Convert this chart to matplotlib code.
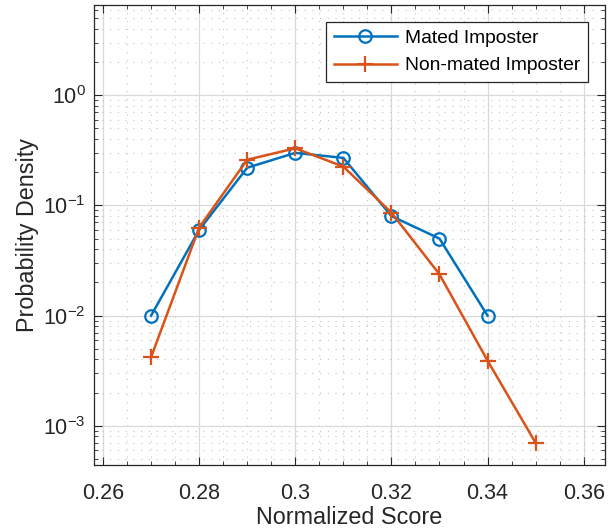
import matplotlib
matplotlib.use("Agg")
import matplotlib.pyplot as plt
from matplotlib.ticker import LogLocator, MultipleLocator, NullFormatter

plt.rcParams['font.family'] = ['Liberation Sans', 'DejaVu Sans']
plt.rcParams['mathtext.fontset'] = 'custom'
plt.rcParams['mathtext.rm'] = 'Liberation Sans'
plt.rcParams['mathtext.it'] = 'Liberation Sans:italic'

# score bins and densities for the two imposter groups
mated_x = [0.27, 0.28, 0.29, 0.30, 0.31, 0.32, 0.33, 0.34]
mated_y = [0.01, 0.06, 0.22, 0.30, 0.27, 0.08, 0.05, 0.01]
nonmated_x = [0.27, 0.28, 0.29, 0.30, 0.31, 0.32, 0.33, 0.34, 0.35]
nonmated_y = [0.0042, 0.063, 0.26, 0.33, 0.225, 0.086, 0.0237, 0.0039, 0.0007]
xticks = [0.26, 0.28, 0.30, 0.32, 0.34, 0.36]
xtick_labels = ['0.26', '0.28', '0.3', '0.32', '0.34', '0.36']

dark = '#262626'
fig = plt.figure(figsize=(6.14, 5.31), dpi=100)
ax = fig.add_axes([0.153, 0.1243, 0.832, 0.8663])

ax.plot(mated_x, mated_y, color='#0072BD', marker='o', markersize=9,
        markerfacecolor='none', markeredgewidth=1.6, linewidth=1.8,
        label='Mated Imposter')
ax.plot(nonmated_x, nonmated_y, color='#D95319', marker='+', markersize=11,
        markeredgewidth=1.6, linewidth=1.8, label='Non-mated Imposter')

ax.set_yscale('log')
ax.set_xlim(0.2581, 0.3644)
ax.set_ylim(4.4e-4, 6.6)
ax.set_xticks(xticks)
ax.set_xticklabels(xtick_labels)
ax.xaxis.set_minor_locator(MultipleLocator(0.005))
ax.yaxis.set_major_locator(LogLocator(base=10, numticks=10))
ax.yaxis.set_minor_locator(LogLocator(base=10, subs=range(2, 10), numticks=20))
ax.yaxis.set_minor_formatter(NullFormatter())

ax.grid(True, which='major', color='#d9d9d9', linewidth=0.9, linestyle='-')
ax.grid(True, which='minor', color='#c4c4c4', linewidth=0.8, linestyle=(0, (1, 6)))
ax.set_axisbelow(True)

ax.tick_params(which='both', direction='in', top=True, right=True,
               colors=dark, labelsize=15.5)
ax.tick_params(axis='x', which='major', pad=13)
ax.tick_params(axis='y', which='major', pad=6)
ax.tick_params(which='major', length=6, width=0.8)
ax.tick_params(which='minor', length=3, width=0.6)
for s in ax.spines.values():
    s.set_color(dark)
    s.set_linewidth(0.9)

ax.set_xlabel('Normalized Score', fontsize=16.8, color=dark, labelpad=1.5)
ax.set_ylabel('Probability Density', fontsize=16.8, color=dark, labelpad=3)

leg = ax.legend(loc='upper right', bbox_to_anchor=(0.967, 0.963), fontsize=13.9,
                fancybox=False, framealpha=1, edgecolor=dark,
                handlelength=3.3, borderpad=0.4, labelspacing=0.5,
                handletextpad=0.4, borderaxespad=0)
leg.get_frame().set_linewidth(0.9)

fig.savefig('out.png', dpi=100)
